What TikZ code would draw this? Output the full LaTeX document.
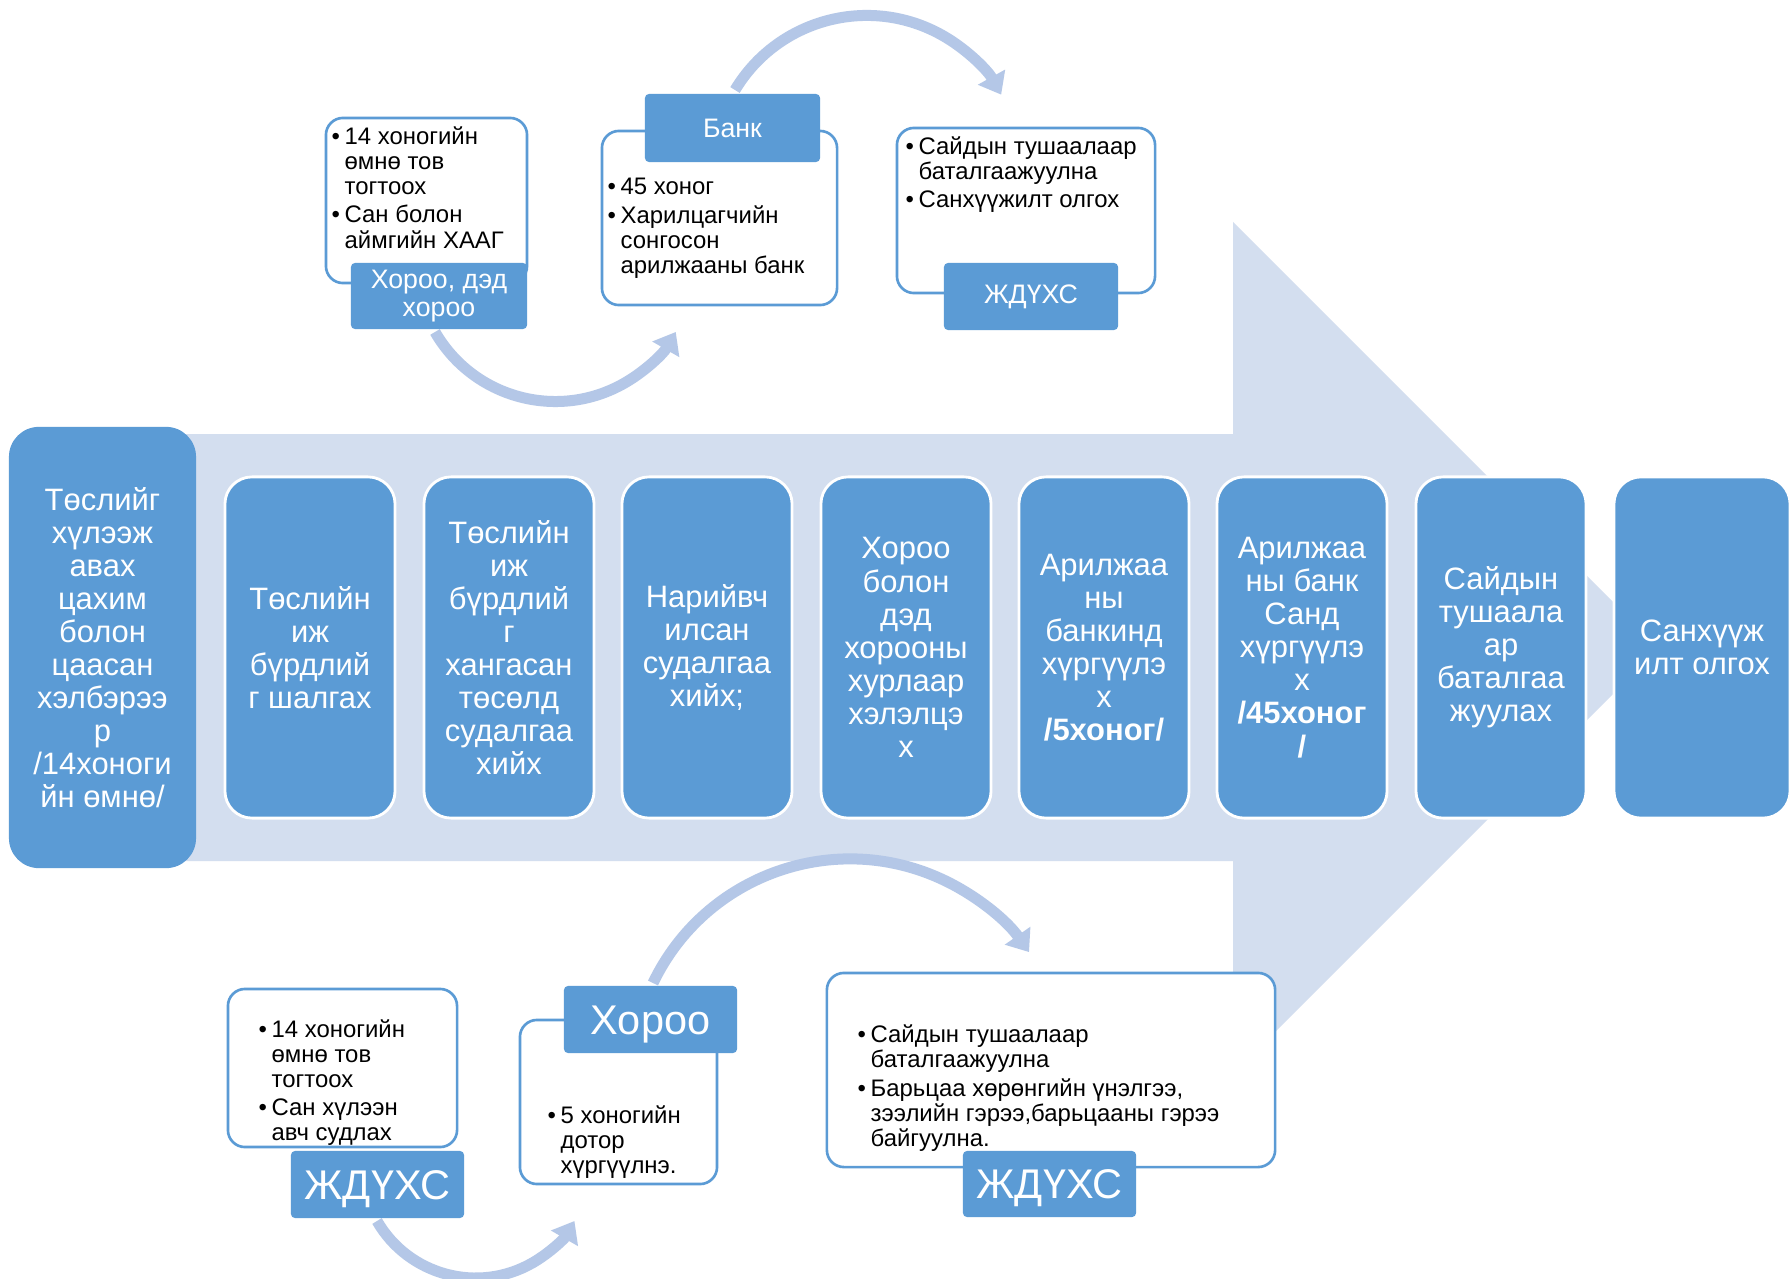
\documentclass[tikz,border=0pt]{standalone}
\usepackage{fontspec}
\setmainfont{Liberation Sans}
\usetikzlibrary{arrows.meta}

\definecolor{stepblue}{HTML}{5B9BD5}
\definecolor{shaftblue}{HTML}{D3DEEF}
\definecolor{curveblue}{HTML}{B4C7E7}

\newcommand{\notelist}[1]{\begin{tabular}{@{}l@{\hspace{1.3pt}}l@{}}#1\end{tabular}}

\tikzset{
	stepbox/.style={rectangle,rounded corners=0.27cm,fill=stepblue,draw=white,line width=0.8pt,minimum width=1.70cm,minimum height=3.41cm,text=white,align=center,inner sep=0pt,font=\fontsize{8.8}{9.4}\selectfont},
	notebox/.style={rectangle,rounded corners=0.17cm,draw=stepblue,line width=0.75pt,fill=white},
	notelbl/.style={rectangle,rounded corners=0.04cm,fill=stepblue,text=white,align=center,inner sep=0pt,font=\fontsize{7.6}{7.8}\selectfont},
	biglbl/.style={notelbl,font=\fontsize{11.8}{12}\selectfont,text height=8.4pt,text depth=0pt},
	notetext/.style={anchor=north west,inner sep=0pt,font=\fontsize{6.8}{7.1}\selectfont},
	curvearr/.style={draw=curveblue,line width=0.11cm,-{Triangle[width=0.30cm,length=0.20cm]}}
}

\begin{document}
\begin{tikzpicture}[x=0.01cm,y=-0.01cm]
				\path[fill=white,use as bounding box] (0,0) rectangle (1791,1279);
				% big arrow behind the steps
				\fill[shaftblue] (100,434) -- (1233,434) -- (1233,222) -- (1659,648) -- (1233,1074) -- (1233,861) -- (100,861) -- cycle;
				\node[stepbox,draw=none,rounded corners=0.3cm,minimum width=1.87cm,minimum height=4.41cm] (s1) at (102.5,647.5) {Төслийг\\хүлээж\\авах\\цахим\\болон\\цаасан\\хэлбэрээ\\р\\/14хоноги\\йн өмнө/};
				\node[stepbox] (s2) at (310,647.5) {Төслийн\\иж\\бүрдлий\\г шалгах};
				\node[stepbox] (s3) at (509,647.5) {Төслийн\\иж\\бүрдлий\\г\\хангасан\\төсөлд\\судалгаа\\хийх};
				\node[stepbox] (s4) at (707,647.5) {Нарийвч\\илсан\\судалгаа\\хийх;};
				\node[stepbox] (s5) at (906,647.5) {Хороо\\болон\\дэд\\хорооны\\хурлаар\\хэлэлцэ\\х};
				\node[stepbox] (s6) at (1104,647.5) {Арилжаа\\ны\\банкинд\\хүргүүлэ\\х\\\textbf{/5хоног/}};
				\node[stepbox] (s7) at (1302,647.5) {Арилжаа\\ны банк\\Санд\\хүргүүлэ\\х\\\textbf{/45хоног}\\\textbf{/}};
				\node[stepbox] (s8) at (1501,647.5) {Сайдын\\тушаала\\ар\\баталгаа\\жуулах};
				\node[stepbox,minimum width=1.76cm] (s9) at (1702,647.5) {Санхүүж\\илт олгох};
				% curved arrows
				\coordinate (a1) at (435,332);
				\coordinate (a2) at (735,90);
				\coordinate (a3) at (377,1221);
				\coordinate (a4) at (653,983);
				\draw[curvearr] (a1) arc[start angle=-210,end angle=-330,radius=139];
				\draw[curvearr] (a2) arc[start angle=-149,end angle=-29,radius=153.7];
				\draw[curvearr] (a3) arc[start angle=-210,end angle=-330,radius=114];
				\draw[curvearr] (a4) arc[start angle=-154.4,end angle=-35,radius=218.5];
				% top notes
				\node[notebox,minimum width=2.01cm,minimum height=1.65cm] (topA) at (426.5,200.5) {};
				\node[notetext] (topAtxt) at (331,126.5) {\notelist{\textbullet & 14 хоногийн\\ & өмнө тов\\ & тогтоох\\[0.85pt] \textbullet & Сан болон\\ & аймгийн ХААГ}};
				\node[notelbl,minimum width=1.76cm,minimum height=0.66cm] (topAlbl) at (439,296) {Хороо, дэд\\хороо};
				\node[notebox,minimum width=2.35cm,minimum height=1.74cm] (topB) at (719.5,218) {};
				\node[notetext] (topBtxt) at (607,176.5) {\notelist{\textbullet & 45 хоног\\[1.1pt] \textbullet & Харилцагчийн\\ & сонгосон\\ & арилжааны банк}};
				\node[notelbl,minimum width=1.75cm,minimum height=0.68cm] (topBlbl) at (732.5,128) {Банк};
				\node[notebox,minimum width=2.58cm,minimum height=1.65cm] (topC) at (1026,210.5) {};
				\node[notetext] (topCtxt) at (905,136.5) {\notelist{\textbullet & Сайдын тушаалаар\\ & баталгаажуулна\\[0.85pt] \textbullet & Санхүүжилт олгох}};
				\node[notelbl,minimum width=1.74cm,minimum height=0.67cm] (topClbl) at (1031,296.5) {ЖДҮХС};
				% bottom notes
				\node[notebox,minimum width=2.29cm,minimum height=1.58cm] (botD) at (342.5,1068) {};
				\node[notetext] (botDtxt) at (258,1019.5) {\notelist{\textbullet & 14 хоногийн\\ & өмнө тов\\ & тогтоох\\[0.85pt] \textbullet & Сан хүлээн\\ & авч судлах}};
				\node[biglbl,minimum width=1.73cm,minimum height=0.67cm] (botDlbl) at (377.5,1184.5) {ЖДҮХС};
				\node[notebox,minimum width=1.97cm,minimum height=1.64cm] (botE) at (618.5,1102) {};
				\node[notetext] (botEtxt) at (547,1105.5) {\notelist{\textbullet & 5 хоногийн\\ & дотор\\ & хүргүүлнэ.}};
				\node[biglbl,minimum width=1.73cm,minimum height=0.67cm] (botElbl) at (650.5,1019.5) {Хороо};
				\node[notebox,minimum width=4.48cm,minimum height=1.94cm] (botF) at (1051,1070) {};
				\node[notetext] (botFtxt) at (857,1024.5) {\notelist{\textbullet & Сайдын тушаалаар\\ & баталгаажуулна\\[0.85pt] \textbullet & Барьцаа хөрөнгийн үнэлгээ,\\ & зээлийн гэрээ,барьцааны гэрээ\\ & байгуулна.}};
				\node[biglbl,minimum width=1.73cm,minimum height=0.66cm] (botFlbl) at (1049.5,1184) {ЖДҮХС};
			\end{tikzpicture}
\end{document}
